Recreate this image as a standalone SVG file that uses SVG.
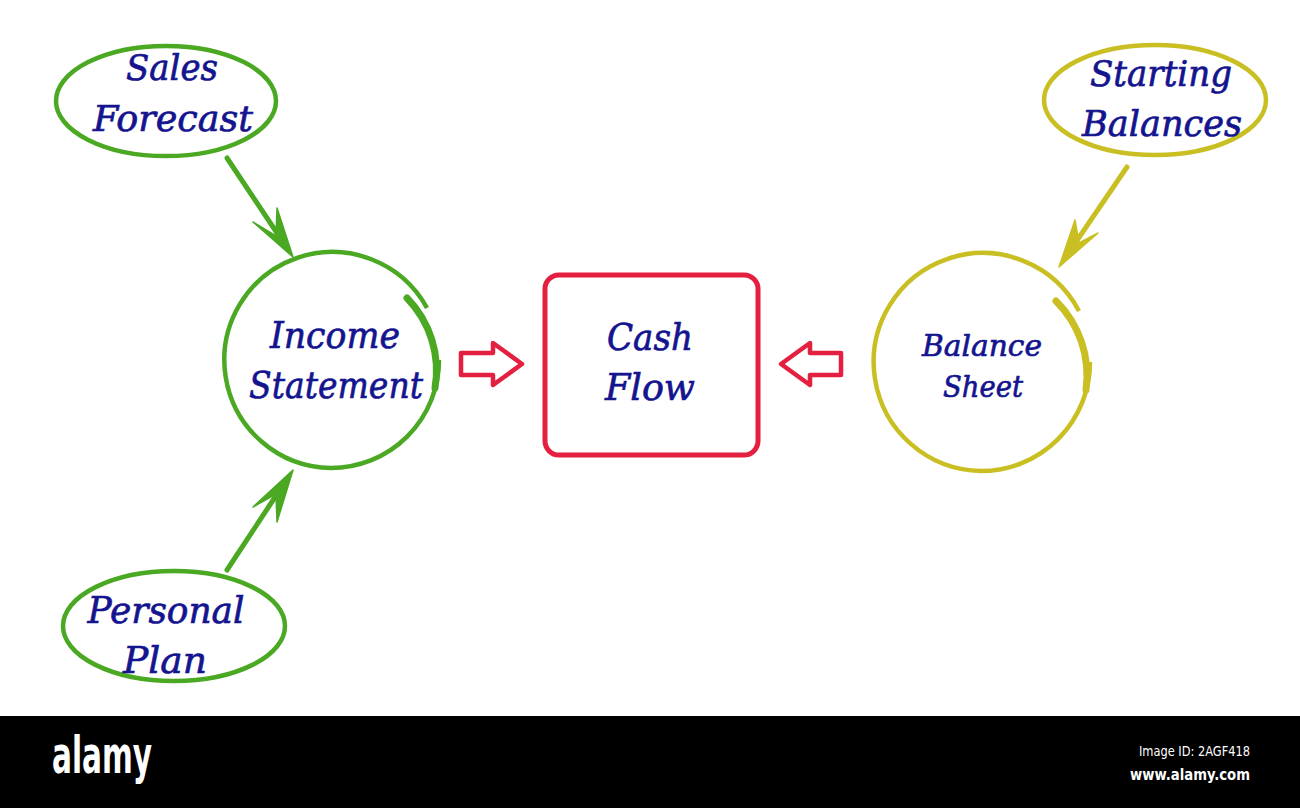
<svg xmlns="http://www.w3.org/2000/svg" width="1300" height="808" viewBox="0 0 1300 808">
<style>
.lbl{font-family:"DejaVu Serif","Liberation Serif",serif;font-style:italic;fill:#14148f;stroke:#14148f;stroke-width:0.7;}
.g{fill:none;stroke:#4aa823;stroke-width:4.5;}
.y{fill:none;stroke:#c9bf22;stroke-width:4.5;}
.gt{fill:none;stroke:#4aa823;stroke-width:7;stroke-linecap:round;}
.yt{fill:none;stroke:#c9bf22;stroke-width:7;stroke-linecap:round;}
.r{fill:#ffffff;stroke:#e41f3f;stroke-width:4.5;stroke-linejoin:round;}
.gl{stroke:#4aa823;stroke-width:5;stroke-linecap:round;}
.yl{stroke:#c9bf22;stroke-width:5;stroke-linecap:round;}
</style>
<rect x="0" y="0" width="1300" height="808" fill="#ffffff"/>

<g id="sales-forecast">
<ellipse class="g" cx="166" cy="101" rx="110" ry="55"/>
<text class="lbl" x="172" y="80" font-size="35" text-anchor="middle" textLength="92" lengthAdjust="spacingAndGlyphs">Sales</text>
<text class="lbl" x="173" y="131" font-size="35" text-anchor="middle" textLength="160" lengthAdjust="spacingAndGlyphs">Forecast</text>
</g>

<g id="personal-plan">
<ellipse class="g" cx="174" cy="626" rx="111" ry="55"/>
<text class="lbl" x="166" y="623" font-size="37" text-anchor="middle" textLength="157" lengthAdjust="spacingAndGlyphs">Personal</text>
<text class="lbl" x="165" y="673" font-size="37" text-anchor="middle" textLength="84" lengthAdjust="spacingAndGlyphs">Plan</text>
</g>

<g id="income-statement">
<path class="g" d="M 427 308 A 108 108 0 1 0 331 468 A 108 108 0 0 0 439 360"/>
<path class="gt" d="M 407 298 A 104 104 0 0 1 435 388"/>
<text class="lbl" x="335" y="348" font-size="38" text-anchor="middle" textLength="130" lengthAdjust="spacingAndGlyphs">Income</text>
<text class="lbl" x="336" y="398" font-size="38" text-anchor="middle" textLength="174" lengthAdjust="spacingAndGlyphs">Statement</text>
</g>

<g id="cash-flow">
<rect x="545" y="275" width="213" height="180" rx="14" ry="14" fill="#ffffff" stroke="#e41f3f" stroke-width="5"/>
<text class="lbl" x="650" y="350" font-size="38" text-anchor="middle" textLength="86" lengthAdjust="spacingAndGlyphs">Cash</text>
<text class="lbl" x="650" y="400" font-size="38" text-anchor="middle" textLength="90" lengthAdjust="spacingAndGlyphs">Flow</text>
</g>

<g id="starting-balances">
<ellipse class="y" cx="1155" cy="100" rx="111" ry="55"/>
<text class="lbl" x="1161" y="86" font-size="35" text-anchor="middle" textLength="142" lengthAdjust="spacingAndGlyphs">Starting</text>
<text class="lbl" x="1162" y="136" font-size="35" text-anchor="middle" textLength="160" lengthAdjust="spacingAndGlyphs">Balances</text>
</g>

<g id="balance-sheet">
<path class="y" d="M 1079 311 A 109 109 0 1 0 981 471 A 109 109 0 0 0 1090 362"/>
<path class="yt" d="M 1056 301 A 105 105 0 0 1 1086 390"/>
<text class="lbl" x="982" y="356" font-size="30" text-anchor="middle" textLength="120" lengthAdjust="spacingAndGlyphs">Balance</text>
<text class="lbl" x="983" y="397" font-size="30" text-anchor="middle" textLength="80" lengthAdjust="spacingAndGlyphs">Sheet</text>
</g>

<g id="connectors">
<line class="gl" x1="227" y1="158" x2="287" y2="248"/>
<polygon points="293,257 253,222 276,236 277,208" fill="#4aa823" stroke="#4aa823" stroke-width="1.5" stroke-linejoin="round"/>
<line class="gl" x1="227" y1="570" x2="287" y2="479"/>
<polygon points="293,470 253,507 276,494 277,522" fill="#4aa823" stroke="#4aa823" stroke-width="1.5" stroke-linejoin="round"/>
<line class="yl" x1="1127" y1="167" x2="1065" y2="258"/>
<polygon points="1059,267 1075,220 1079,243 1098,233" fill="#c9bf22" stroke="#c9bf22" stroke-width="1.5" stroke-linejoin="round"/>
<polygon class="r" points="461,353 493,353 493,343 522,364 493,385 493,375 461,375"/>
<polygon class="r" points="841,353 810,353 810,343 781,364 810,385 810,375 841,375"/>
</g>

<g id="watermark">
<rect x="0" y="716" width="1300" height="92" fill="#000000"/>
<text x="52" y="773" font-family="DejaVu Sans Condensed,DejaVu Sans,sans-serif" font-weight="bold" font-size="52" fill="#ffffff" textLength="100" lengthAdjust="spacingAndGlyphs">alamy</text>
<text x="1250" y="756" font-family="DejaVu Sans Condensed,DejaVu Sans,sans-serif" font-size="14" fill="#ffffff" text-anchor="end" textLength="111" lengthAdjust="spacingAndGlyphs">Image ID: 2AGF418</text>
<text x="1250" y="780" font-family="DejaVu Sans Condensed,DejaVu Sans,sans-serif" font-weight="bold" font-size="16" fill="#ffffff" text-anchor="end" textLength="120" lengthAdjust="spacingAndGlyphs">www.alamy.com</text>
</g>
</svg>
